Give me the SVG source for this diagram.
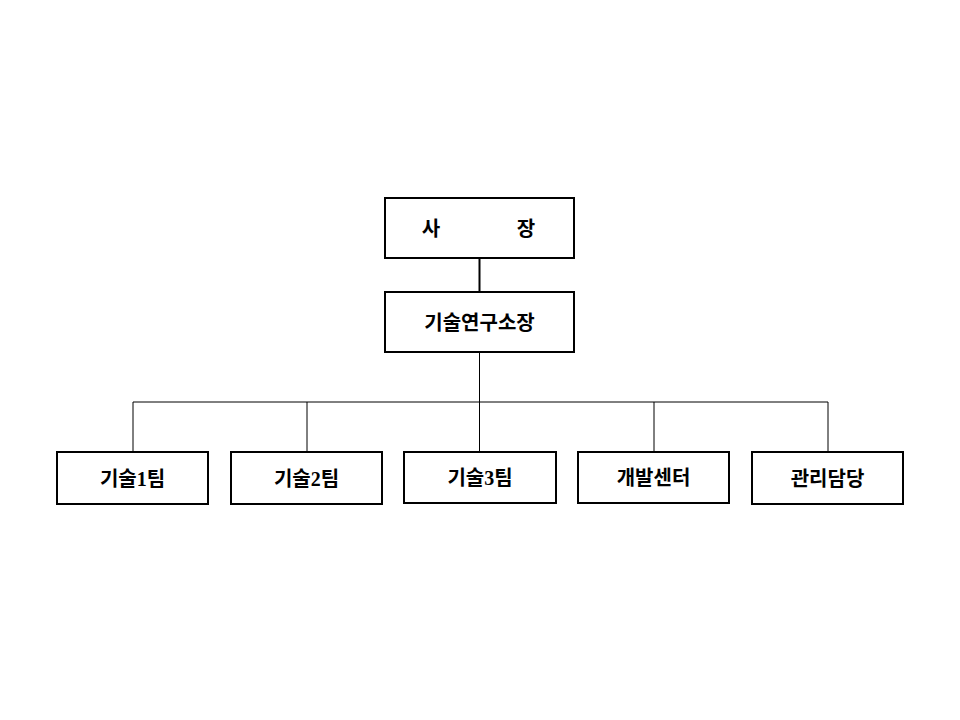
<svg xmlns="http://www.w3.org/2000/svg" width="960" height="720" viewBox="0 0 960 720">
<style>
.b{fill:#fff;stroke:#000;stroke-width:2}
.t{font-family:"Liberation Serif","Noto Sans CJK KR",serif;font-size:20px;font-weight:bold;text-anchor:middle;dominant-baseline:central}
.c{stroke:#000;stroke-width:1;fill:none}
</style>
<rect width="960" height="720" fill="#fff"/>
<g id="connectors">
<line class="c" x1="479.5" y1="258" x2="479.5" y2="292" style="stroke-width:2"/>
<line class="c" x1="479.5" y1="352" x2="479.5" y2="452"/>
<line class="c" x1="133" y1="402" x2="828" y2="402"/>
<line class="c" x1="133" y1="402" x2="133" y2="452"/>
<line class="c" x1="307" y1="402" x2="307" y2="452"/>
<line class="c" x1="654" y1="402" x2="654" y2="452"/>
<line class="c" x1="828" y1="402" x2="828" y2="452"/>
</g>
<g id="n0"><rect class="b" x="385" y="198" width="189" height="60"/><text class="t" x="431" y="229">사</text><text class="t" x="526" y="229">장</text></g>
<g id="n1"><rect class="b" x="385" y="292" width="189" height="60"/><text class="t" x="479.5" y="323">기술연구소장</text></g>
<g id="n2"><rect class="b" x="57" y="452" width="151" height="52"/><text class="t" x="132.5" y="479">기술1팀</text></g>
<g id="n3"><rect class="b" x="231" y="452" width="151" height="52"/><text class="t" x="306.5" y="479">기술2팀</text></g>
<g id="n4"><rect class="b" x="404" y="452" width="152" height="51"/><text class="t" x="480" y="478">기술3팀</text></g>
<g id="n5"><rect class="b" x="578" y="452" width="151" height="51"/><text class="t" x="653.5" y="478">개발센터</text></g>
<g id="n6"><rect class="b" x="752" y="452" width="151" height="52"/><text class="t" x="827.5" y="479">관리담당</text></g>
</svg>
